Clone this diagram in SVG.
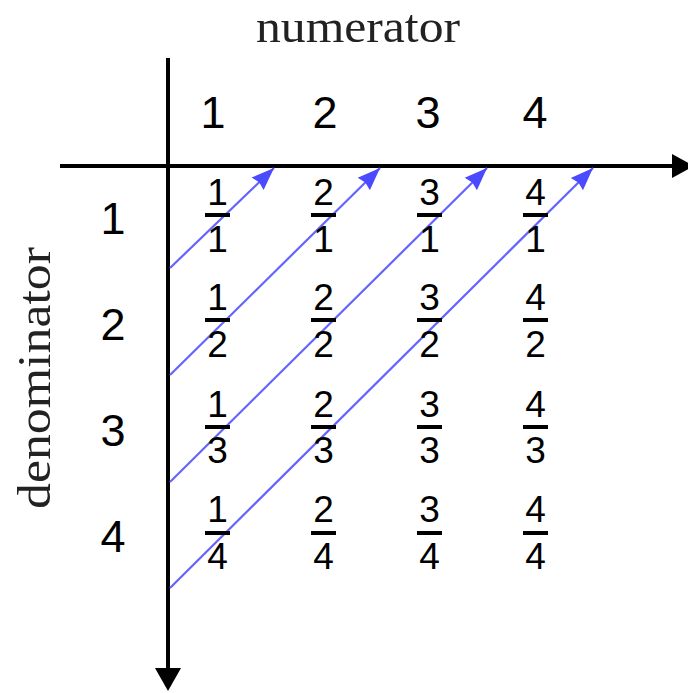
<svg xmlns="http://www.w3.org/2000/svg" width="688" height="693" viewBox="0 0 688 693">
<style>
.lbl{font-family:"Liberation Serif","Times New Roman",serif;font-size:47px;fill:#222;text-anchor:middle}
.big{font-family:"Liberation Sans",Arial,sans-serif;font-size:45px;fill:#000;text-anchor:middle}
.fr{font-family:"Liberation Sans",Arial,sans-serif;font-size:37px;fill:#000;text-anchor:middle}
.bar{fill:#000}
.axis{stroke:#000;stroke-width:4;fill:none}
.diag{stroke:#6464ff;stroke-width:2.2;fill:none;marker-end:url(#bh)}
</style>
<defs>
<marker id="bh" markerUnits="userSpaceOnUse" markerWidth="26" markerHeight="22" viewBox="-22 -10 24 20" refX="0" refY="0" orient="auto">
<path d="M0,0 L-21,-8 L-19,0 L-21,8 Z" fill="#4a4aff"/>
</marker>
</defs>
<rect width="688" height="693" fill="#fff"/>
<text class="lbl" x="358" y="42" textLength="204" lengthAdjust="spacingAndGlyphs">numerator</text>
<text class="lbl" transform="translate(50,378) rotate(-90)" textLength="262" lengthAdjust="spacingAndGlyphs">denominator</text>
<g id="axes">
<line class="axis" x1="60" y1="166" x2="674" y2="166"/>
<polygon points="672,154 694,166 672,178" fill="#000"/>
<line class="axis" x1="168" y1="58" x2="168" y2="670"/>
<polygon points="155,668 168,691 181,668" fill="#000"/>
</g>
<g id="col-headers">
<text class="big" x="213" y="128">1</text>
<text class="big" x="325" y="128">2</text>
<text class="big" x="428" y="128">3</text>
<text class="big" x="535" y="128">4</text>
</g>
<g id="row-headers">
<text class="big" x="113" y="234">1</text>
<text class="big" x="113" y="340">2</text>
<text class="big" x="113" y="446">3</text>
<text class="big" x="113" y="552">4</text>
</g>
<g id="connectors">
<line class="diag" x1="170" y1="268" x2="274" y2="168"/>
<line class="diag" x1="170" y1="375" x2="380" y2="168"/>
<line class="diag" x1="170" y1="482" x2="487" y2="168"/>
<line class="diag" x1="170" y1="588" x2="593" y2="168"/>
</g>
<g id="f11"><text class="fr" x="217.5" y="205">1</text><rect class="bar" x="205" y="213" width="25" height="4"/><text class="fr" x="217.5" y="252">1</text></g>
<g id="f21"><text class="fr" x="323.5" y="205">2</text><rect class="bar" x="311" y="213" width="25" height="4"/><text class="fr" x="323.5" y="252">1</text></g>
<g id="f31"><text class="fr" x="429.5" y="205">3</text><rect class="bar" x="417" y="213" width="25" height="4"/><text class="fr" x="429.5" y="252">1</text></g>
<g id="f41"><text class="fr" x="535.5" y="205">4</text><rect class="bar" x="523" y="213" width="25" height="4"/><text class="fr" x="535.5" y="252">1</text></g>
<g id="f12"><text class="fr" x="217.5" y="310">1</text><rect class="bar" x="205" y="318" width="25" height="4"/><text class="fr" x="217.5" y="357">2</text></g>
<g id="f22"><text class="fr" x="323.5" y="310">2</text><rect class="bar" x="311" y="318" width="25" height="4"/><text class="fr" x="323.5" y="357">2</text></g>
<g id="f32"><text class="fr" x="429.5" y="310">3</text><rect class="bar" x="417" y="318" width="25" height="4"/><text class="fr" x="429.5" y="357">2</text></g>
<g id="f42"><text class="fr" x="535.5" y="310">4</text><rect class="bar" x="523" y="318" width="25" height="4"/><text class="fr" x="535.5" y="357">2</text></g>
<g id="f13"><text class="fr" x="217.5" y="417">1</text><rect class="bar" x="205" y="425" width="25" height="4"/><text class="fr" x="217.5" y="463">3</text></g>
<g id="f23"><text class="fr" x="323.5" y="417">2</text><rect class="bar" x="311" y="425" width="25" height="4"/><text class="fr" x="323.5" y="463">3</text></g>
<g id="f33"><text class="fr" x="429.5" y="417">3</text><rect class="bar" x="417" y="425" width="25" height="4"/><text class="fr" x="429.5" y="463">3</text></g>
<g id="f43"><text class="fr" x="535.5" y="417">4</text><rect class="bar" x="523" y="425" width="25" height="4"/><text class="fr" x="535.5" y="463">3</text></g>
<g id="f14"><text class="fr" x="217.5" y="522">1</text><rect class="bar" x="205" y="531" width="25" height="4"/><text class="fr" x="217.5" y="569">4</text></g>
<g id="f24"><text class="fr" x="323.5" y="522">2</text><rect class="bar" x="311" y="531" width="25" height="4"/><text class="fr" x="323.5" y="569">4</text></g>
<g id="f34"><text class="fr" x="429.5" y="522">3</text><rect class="bar" x="417" y="531" width="25" height="4"/><text class="fr" x="429.5" y="569">4</text></g>
<g id="f44"><text class="fr" x="535.5" y="522">4</text><rect class="bar" x="523" y="531" width="25" height="4"/><text class="fr" x="535.5" y="569">4</text></g>
</svg>
